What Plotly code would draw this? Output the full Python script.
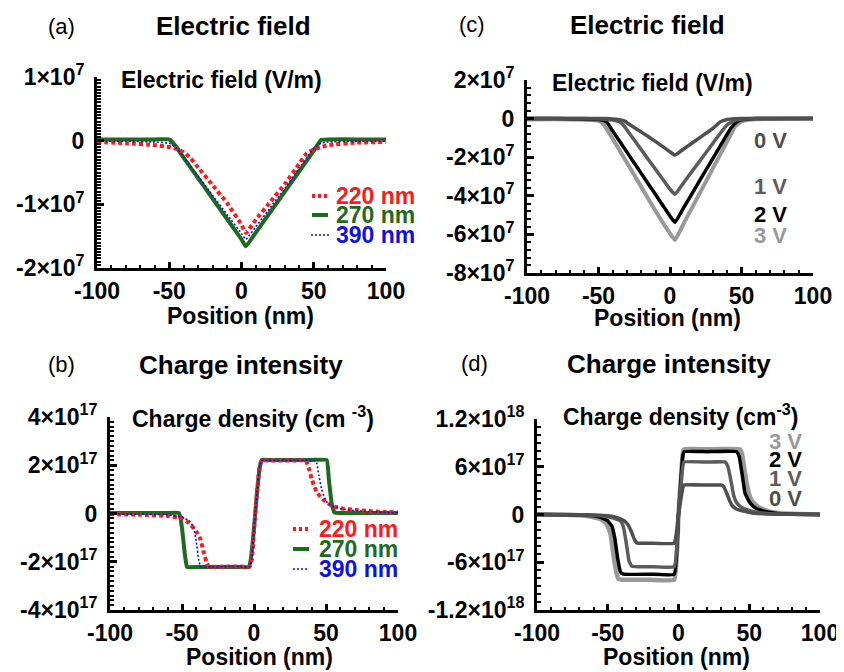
import plotly.graph_objects as go

FONT = "Liberation Sans, Arial, Helvetica, sans-serif"
# the page body has an 8 px margin: the figure is sized to fill the rest of the 844x672 window
OFF = 8
FW, FH = 844 - OFF, 672 - OFF

EF_UNIT = 1e7      # V/m
RHO_UNIT = 1e17    # cm^-3

# ---------------- (a) Electric field, different thicknesses (x1e7 V/m) ----------------
pos_a = [-100, -80, -60, -50, -45, -40, -35, -30, -20, -10, 0, 3, 10, 20, 30, 40, 45, 50, 55, 60, 80, 100]
ef_a_220 = [-0.02, -0.04, -0.07, -0.10, -0.13, -0.18, -0.28, -0.42, -0.70, -0.98, -1.32, -1.45,
            -1.24, -0.96, -0.68, -0.36, -0.20, -0.14, -0.10, -0.07, -0.03, -0.02]
ef_a_270 = [0.02, 0.02, 0.02, 0.02, -0.10, -0.27, -0.43, -0.59, -0.91, -1.23, -1.55, -1.66,
            -1.44, -1.12, -0.80, -0.48, -0.32, -0.16, 0.01, 0.02, 0.02, 0.02]
ef_a_390 = [-0.01, -0.01, -0.02, -0.04, -0.12, -0.26, -0.41, -0.56, -0.86, -1.16, -1.46, -1.55,
            -1.35, -1.05, -0.75, -0.43, -0.27, -0.12, -0.04, -0.02, -0.01, -0.01]

# ---------------- (c) Electric field, different biases (x1e7 V/m) ----------------
pos_c_0v = [-100, -80, -60, -45, -40, -35, -31, -30, -20, -10, 0, 3.5, 10, 20, 30, 35, 40, 45, 50, 60, 80, 100]
ef_c_0v = [0, 0, 0, 0, -0.02, -0.06, -0.15, -0.22, -0.70, -1.19, -1.72, -1.89,
           -1.55, -1.03, -0.51, -0.18, -0.05, -0.01, 0, 0, 0, 0]
pos_c_1v = [-100, -80, -60, -50, -45, -40, -36, -33, -30, -20, -10, 0, 3.5, 10, 20, 30, 36, 40, 45, 50, 60, 80, 100]
ef_c_1v = [0, 0, 0, -0.01, -0.03, -0.08, -0.15, -0.30, -0.60, -1.62, -2.64, -3.66, -3.92,
           -3.27, -2.28, -1.28, -0.68, -0.32, -0.10, -0.03, 0, 0, 0]
pos_c_2v = [-100, -80, -60, -50, -46, -44, -40, -30, -20, -10, 0, 3.5, 10, 20, 30, 40, 43, 47, 50, 55, 60, 80, 100]
ef_c_2v = [0, 0, -0.02, -0.05, -0.10, -0.20, -0.65, -1.75, -2.85, -3.95, -5.05, -5.37,
           -4.56, -3.31, -2.06, -0.81, -0.45, -0.15, -0.06, -0.02, 0, 0, 0]
pos_c_3v = [-100, -80, -60, -50, -47, -45, -40, -30, -20, -10, 0, 3.5, 10, 20, 30, 40, 45.5, 50, 55, 60, 80, 100]
ef_c_3v = [-0.05, -0.04, -0.06, -0.12, -0.25, -0.45, -1.05, -2.30, -3.55, -4.80, -5.95, -6.29,
           -5.38, -3.98, -2.58, -1.18, -0.41, -0.15, -0.06, -0.03, -0.01, 0]

# ---------------- (b) Charge density, different thicknesses (x1e17 cm^-3) ----------------
pos_b_220 = [-100, -80, -60, -50, -45, -40, -37, -35, -33, -31.5, -20, -10, -3, -1.5, 0, 2, 4, 5.5,
             10, 20, 30, 36, 38, 40, 42, 44, 48, 52, 56, 62, 70, 80, 90, 100]
rho_b_220 = [-0.03, -0.05, -0.10, -0.20, -0.40, -0.75, -1.10, -1.60, -2.00, -2.20, -2.20, -2.20, -2.20,
             -1.90, -0.70, 0.80, 2.00, 2.20, 2.20, 2.20, 2.20, 2.20, 1.90, 1.45, 1.10, 0.85, 0.58,
             0.40, 0.28, 0.20, 0.15, 0.10, 0.07, 0.04]
pos_b_270 = [-100, -80, -60, -52, -50, -48, -46.5, -40, -30, -20, -10, -3.5, -2, 0, 2, 4, 5.5,
             10, 20, 30, 40, 50.5, 52, 54, 56, 60, 80, 100]
rho_b_270 = [0.02, 0.02, 0.02, 0.02, -0.60, -1.70, -2.22, -2.22, -2.22, -2.22, -2.22, -2.22, -1.80,
             -0.60, 0.80, 1.90, 2.22, 2.22, 2.22, 2.22, 2.22, 2.22, 1.40, 0.40, 0.03, 0.02, 0.02, 0.02]
pos_b_390 = [-100, -80, -60, -50, -45, -42, -40, -38.5, -37, -20, -10, -3, -1.5, 0, 2, 4, 5.5,
             10, 20, 30, 42, 43.5, 45, 47, 49, 51, 55, 60, 70, 80, 100]
rho_b_390 = [-0.02, -0.03, -0.05, -0.15, -0.30, -0.55, -1.20, -1.90, -2.20, -2.20, -2.20, -2.20,
             -1.90, -0.70, 0.80, 2.00, 2.20, 2.20, 2.20, 2.20, 2.20, 2.10, 1.60, 1.00, 0.65,
             0.44, 0.30, 0.20, 0.12, 0.08, 0.03]

# ---------------- (d) Charge density, different biases (x1e17 cm^-3) ----------------
pos_d_0v = [-100, -70, -60, -50, -45, -40, -37, -35, -33, -31, -29, -20, -3, 0, 3, 4, 20, 30, 32,
            34, 36, 38, 41, 45, 52, 60, 75, 100]
rho_d_0v = [0, -0.02, -0.06, -0.15, -0.30, -0.65, -1.00, -1.50, -2.30, -3.20, -3.60, -3.60, -3.60,
            0, 3.30, 3.70, 3.70, 3.70, 3.50, 2.70, 1.80, 1.10, 0.70, 0.45, 0.20, 0.08, 0.02, 0]
pos_d_1v = [-100, -70, -60, -50, -45, -41, -39, -37, -35, -33, -20, -3, 0, 3, 4, 20, 33, 35, 37,
            39, 41, 44, 48, 55, 65, 80, 100]
rho_d_1v = [0, -0.03, -0.10, -0.30, -0.50, -0.80, -1.50, -3.50, -5.80, -6.50, -6.55, -6.55, 0,
            6.00, 6.60, 6.60, 6.60, 6.00, 4.30, 2.40, 1.50, 0.95, 0.60, 0.30, 0.10, 0.02, 0]
pos_d_2v = [-100, -70, -60, -55, -50, -47, -45, -43, -41, -39, -20, -3, 0, 3, 4, 20, 41, 43, 45,
            47, 50, 53, 57, 62, 70, 85, 100]
rho_d_2v = [0, -0.05, -0.15, -0.35, -0.80, -1.50, -3.00, -5.50, -7.20, -7.50, -7.50, -7.50, 0,
            7.30, 7.90, 7.90, 7.90, 7.20, 5.00, 2.70, 1.60, 1.00, 0.60, 0.35, 0.12, 0.03, 0]
pos_d_3v = [-100, -80, -70, -65, -60, -55, -52, -50, -48, -46, -44, -42.5, -40, -20, -3, 0, 3, 4,
            20, 43.5, 45, 47, 49, 51, 54, 58, 64, 72, 85, 100]
rho_d_3v = [0, -0.02, -0.10, -0.20, -0.35, -0.60, -1.00, -1.50, -2.50, -5.00, -7.20, -8.10, -8.20,
            -8.20, -8.20, 0, 7.60, 8.20, 8.20, 8.20, 7.50, 5.20, 3.20, 2.00, 1.30, 0.80, 0.40,
            0.15, 0.05, 0]

# ---------------- tick labels ----------------
x_ticks = [-100, -50, 0, 50, 100]
x_tick_text = ["-100", "-50", "0", "50", "100"]
y_ticks_a = [1, 0, -1, -2]
y_text_a = ["1×10<sup>7</sup>", "0", "-1×10<sup>7</sup>", "-2×10<sup>7</sup>"]
y_ticks_c = [2, 0, -2, -4, -6, -8]
y_text_c = ["2×10<sup>7</sup>", "0", "-2×10<sup>7</sup>", "-4×10<sup>7</sup>",
            "-6×10<sup>7</sup>", "-8×10<sup>7</sup>"]
y_ticks_b = [4, 2, 0, -2, -4]
y_text_b = ["4×10<sup>17</sup>", "2×10<sup>17</sup>", "0", "-2×10<sup>17</sup>", "-4×10<sup>17</sup>"]
y_ticks_d = [12, 6, 0, -6, -12]
y_text_d = ["1.2×10<sup>18</sup>", "6×10<sup>17</sup>", "0", "-6×10<sup>17</sup>", "-1.2×10<sup>18</sup>"]

RED, GREEN, BLUE = "#ff1a1a", "#1e6b1e", "#1010e0"
C0, C1, C2, C3 = "#4f4f4f", "#5c5c5c", "#000000", "#999999"


def px2x(px):
    return (px - OFF) / FW


def py2y(py):
    return 1 - (py - OFF) / FH


def scaled(vals, unit):
    return [v * unit for v in vals]


fig = go.Figure()


def add(x, y, unit, color, width, dash, xa, ya):
    fig.add_trace(go.Scatter(x=x, y=scaled(y, unit), mode="lines",
                             line=dict(color=color, width=width, dash=dash, shape="spline", smoothing=0.3),
                             xaxis=xa, yaxis=ya, showlegend=False, hoverinfo="skip"))


# (a)
add(pos_a, ef_a_270, EF_UNIT, GREEN, 4, "solid", "x", "y")
add(pos_a, ef_a_220, EF_UNIT, RED, 4, "4px,3px", "x", "y")
add(pos_a, ef_a_390, EF_UNIT, BLUE, 1.6, "2px,2px", "x", "y")
# (c)
add(pos_c_3v, ef_c_3v, EF_UNIT, C3, 4, "solid", "x2", "y2")
add(pos_c_2v, ef_c_2v, EF_UNIT, C2, 3.5, "solid", "x2", "y2")
add(pos_c_1v, ef_c_1v, EF_UNIT, C1, 3.5, "solid", "x2", "y2")
add(pos_c_0v, ef_c_0v, EF_UNIT, C0, 3.5, "solid", "x2", "y2")
# (b)
add(pos_b_270, rho_b_270, RHO_UNIT, GREEN, 4, "solid", "x3", "y3")
add(pos_b_220, rho_b_220, RHO_UNIT, RED, 4, "4px,3px", "x3", "y3")
add(pos_b_390, rho_b_390, RHO_UNIT, BLUE, 1.6, "2px,2px", "x3", "y3")
# (d)
add(pos_d_3v, rho_d_3v, RHO_UNIT, C3, 4.5, "solid", "x4", "y4")
add(pos_d_2v, rho_d_2v, RHO_UNIT, C2, 3.5, "solid", "x4", "y4")
add(pos_d_1v, rho_d_1v, RHO_UNIT, C1, 3.5, "solid", "x4", "y4")
add(pos_d_0v, rho_d_0v, RHO_UNIT, C0, 3.5, "solid", "x4", "y4")

TICKFONT = dict(family=FONT, size=23, color="black", weight="bold")


def xaxis(px0, px1, anchor):
    return dict(domain=[px2x(px0), px2x(px1)], range=[-100, 100], anchor=anchor, automargin=False,
                showline=True, linewidth=3, linecolor="black", mirror=False,
                ticks="inside", ticklen=6, tickwidth=2.5, tickcolor="black",
                tickvals=x_ticks, ticktext=x_tick_text, tickfont=TICKFONT,
                showgrid=False, zeroline=False, ticklabelstandoff=0,
                minor=dict(ticks="inside", dtick=10, tick0=0, ticklen=3.5, tickwidth=2,
                           tickcolor="black", showgrid=False))


def yaxis(py_top, py_bot, anchor, rng, vals, text, unit, minor_dtick):
    return dict(domain=[py2y(py_bot), py2y(py_top)], range=[rng[0] * unit, rng[1] * unit],
                anchor=anchor, automargin=False, showline=True, linewidth=3, linecolor="black",
                mirror=False, ticks="inside", ticklen=7, tickwidth=2.5, tickcolor="black",
                tickvals=scaled(vals, unit), ticktext=text, tickfont=TICKFONT,
                showgrid=False, zeroline=False, ticklabelstandoff=5,
                minor=dict(ticks="inside", dtick=minor_dtick * unit, tick0=0, ticklen=4,
                           tickwidth=2, tickcolor="black", showgrid=False))


annotations = []


def ann(text, px, py, size, color="black", bold=True, xanchor="center"):
    annotations.append(dict(text=text, x=px2x(px), y=py2y(py), xref="paper", yref="paper",
                            xanchor=xanchor, yanchor="middle", showarrow=False,
                            font=dict(family=FONT, size=size, color=color,
                                      weight="bold" if bold else "normal")))


# panel titles
ann("(a)", 61, 26, 22, bold=False)
ann("Electric field", 233, 26, 26)
ann("(c)", 472, 25, 22, bold=False)
ann("Electric field", 647, 25, 26)
ann("(b)", 61, 364, 22, bold=False)
ann("Charge intensity", 241, 365, 26)
ann("(d)", 474, 363, 22, bold=False)
ann("Charge intensity", 669, 364, 26)
# inner quantity labels
ann("Electric field (V/m)", 221, 80, 23)
ann("Electric field (V/m)", 652, 83, 23)
ann("Charge density (cm <sup>-3</sup>)", 253, 417, 23)
ann("Charge density (cm<sup>-3</sup>)", 680, 415, 23)
# x axis titles
ann("Position (nm)", 240, 316, 23)
ann("Position (nm)", 667, 318, 23)
ann("Position (nm)", 259, 657, 23)
ann("Position (nm)", 676, 657, 23)
# legends (a)
ann("220 nm", 334, 196, 23, RED, xanchor="left")
ann("270 nm", 334, 215, 23, GREEN, xanchor="left")
ann("390 nm", 334, 235, 23, BLUE, xanchor="left")
# legends (b)
ann("220 nm", 317, 529, 23, RED, xanchor="left")
ann("270 nm", 317, 549, 23, GREEN, xanchor="left")
ann("390 nm", 317, 569, 23, BLUE, xanchor="left")
# bias labels (c)
ann("0 V", 752, 140, 22, C0, xanchor="left")
ann("1 V", 752, 186, 22, C1, xanchor="left")
ann("2 V", 752, 214, 22, C2, xanchor="left")
ann("3 V", 752, 235, 22, C3, xanchor="left")
# bias labels (d)
ann("3 V", 767, 441, 22, C3, xanchor="left")
ann("2 V", 767, 459, 22, C2, xanchor="left")
ann("1 V", 767, 478, 22, C1, xanchor="left")
ann("0 V", 767, 498, 22, C0, xanchor="left")

shapes = []


def sample(px0, px1, py, color, width, dash):
    shapes.append(dict(type="line", xref="paper", yref="paper", x0=px2x(px0), x1=px2x(px1),
                       y0=py2y(py), y1=py2y(py), line=dict(color=color, width=width, dash=dash)))


sample(312, 329, 196, RED, 4, "3px,3px")
sample(312, 328, 215, GREEN, 4, "solid")
sample(311, 329, 235, BLUE, 1.6, "2px,2px")
sample(293, 310, 529, RED, 4, "3px,3px")
sample(293, 309, 549, GREEN, 4, "solid")
sample(293, 308, 569, BLUE, 1.6, "2px,2px")

fig.update_layout(
    template="none",
    width=FW, height=FH, autosize=False,
    margin=dict(l=0, r=0, t=0, b=0, pad=0),
    paper_bgcolor="white", plot_bgcolor="white",
    showlegend=False,
    font=dict(family=FONT, color="black"),
    xaxis=xaxis(97, 386, "y"),
    yaxis=yaxis(77, 268, "x", [-2, 1], y_ticks_a, y_text_a, EF_UNIT, 0.05),
    xaxis2=xaxis(527, 813, "y2"),
    yaxis2=yaxis(80, 273, "x2", [-8, 2], y_ticks_c, y_text_c, EF_UNIT, 0.4),
    xaxis3=xaxis(110, 398, "y3"),
    yaxis3=yaxis(417, 610, "x3", [-4, 4], y_ticks_b, y_text_b, RHO_UNIT, 0.2),
    xaxis4=xaxis(537, 820, "y4"),
    yaxis4=yaxis(419, 610, "x4", [-12, 12], y_ticks_d, y_text_d, RHO_UNIT, 1),
    annotations=annotations,
    shapes=shapes,
)

fig.write_html("out.html")
